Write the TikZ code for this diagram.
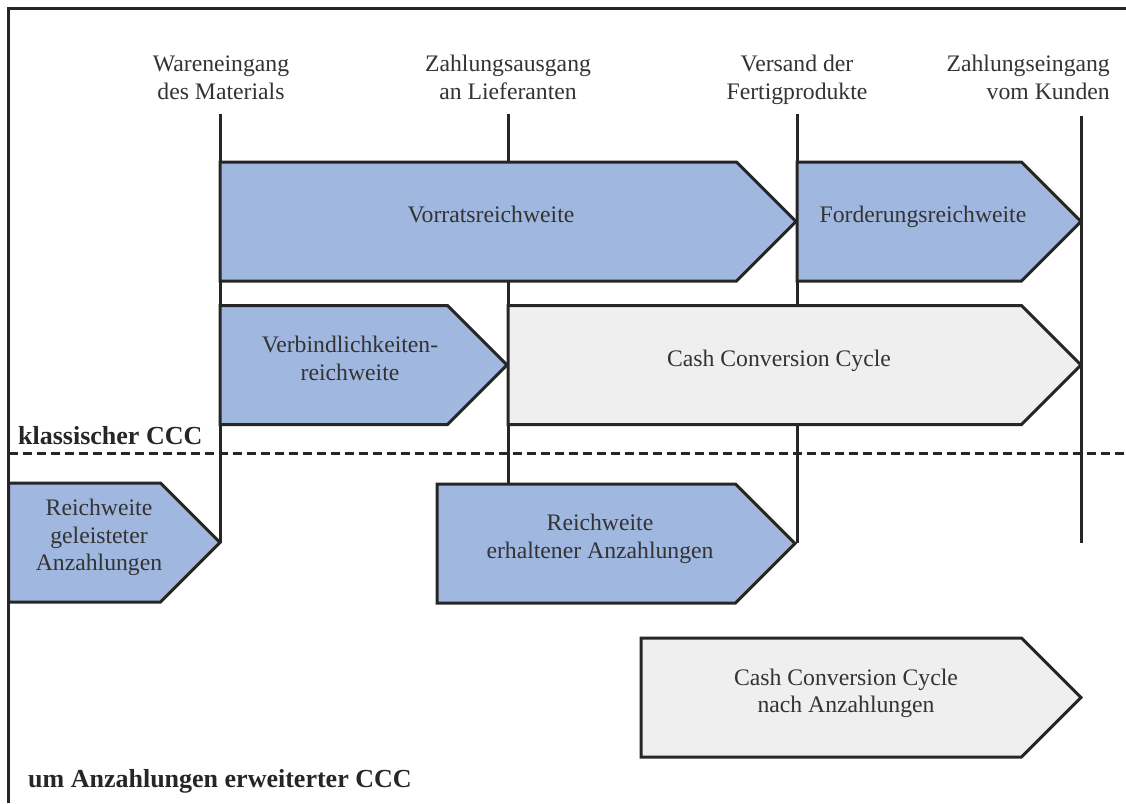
\documentclass[tikz,border=0pt]{standalone}
\usepackage{fontspec}
\setmainfont{LiberationSerif-Regular.ttf}[BoldFont=LiberationSerif-Bold.ttf]
\definecolor{boxblue}{HTML}{A0B7E0}
\definecolor{boxgrey}{HTML}{EFEFEF}
\definecolor{ink}{HTML}{262626}
\definecolor{txt}{HTML}{333333}
\newcommand\pentabox[4]{% style, left, tip, top
  \draw[#1] (#2,#4) -- ({#3-59.5},#4) -- (#3,{#4+59.5}) -- ({#3-59.5},{#4+119}) -- (#2,{#4+119}) -- cycle;}
\begin{document}
\begin{tikzpicture}[x=1pt,y=-1pt,
  frameline/.style={line width=3pt, draw=ink},
  marker/.style={line width=3pt, draw=ink},
  divider/.style={line width=3pt, draw=ink, dash pattern=on 9pt off 5pt},
  bluebox/.style={fill=boxblue, draw=ink, line width=3pt, line join=miter},
  greybox/.style={fill=boxgrey, draw=ink, line width=3pt, line join=miter},
  lbl/.style={inner sep=0pt, align=center, text=txt, font=\fontsize{23.7}{27.5}\selectfont},
  heading/.style={inner sep=0pt, anchor=base west, text=ink, font=\fontsize{26}{30}\selectfont\bfseries},
]
\useasboundingbox (0,0) rectangle (1126,803);
% frame
\coordinate (fbl) at (8.5,803);
\coordinate (ftl) at (8.5,8.5);
\coordinate (ftr) at (1126,8.5);
\draw[frameline] (fbl) -- (ftl) -- (ftr);
% markers
\coordinate (m1t) at (220,114); \coordinate (m1b) at (220,543);
\coordinate (m2t) at (508,114); \coordinate (m2b) at (508,484);
\coordinate (m3t) at (797,114); \coordinate (m3b) at (797,543);
\coordinate (m4t) at (1081,116); \coordinate (m4b) at (1081,543);
\draw[marker] (m1t) -- (m1b);
\draw[marker] (m2t) -- (m2b);
\draw[marker] (m3t) -- (m3b);
\draw[marker] (m4t) -- (m4b);
% dashed divider
\coordinate (dl) at (8.5,453); \coordinate (dr) at (1126,453);
\draw[divider] (dl) -- (dr);
% boxes
\pentabox{bluebox}{220}{796}{162}
\pentabox{bluebox}{797}{1081}{162}
\pentabox{bluebox}{220}{507}{305.5}
\pentabox{greybox}{508}{1081}{305.5}
\pentabox{bluebox}{8.5}{220}{483}
\pentabox{bluebox}{437}{795}{484}
\pentabox{greybox}{641}{1081}{638}
% labels
\node[lbl] (t1) at (221,80) {\strut Wareneingang\\\strut des Materials};
\node[lbl] (t2) at (508,80) {\strut Zahlungsausgang\\\strut an Lieferanten};
\node[lbl] (t3) at (797,80) {\strut Versand der\\\strut Fertigprodukte};
\node[lbl, anchor=east, align=right] (t4) at (1110,80) {\strut Zahlungseingang\\\strut vom Kunden};
\node[lbl] (vorrat) at (491,216.5) {\strut Vorratsreichweite};
\node[lbl] (ford) at (923,216.5) {\strut Forderungsreichweite};
\node[lbl] (verb) at (350,361) {\strut Verbindlichkeiten-\\\strut reichweite};
\node[lbl] (ccc) at (779,360.5) {\strut Cash Conversion Cycle};
\node[lbl] (gel) at (99,537.5) {\strut Reichweite\\\strut geleisteter\\\strut Anzahlungen};
\node[lbl] (erh) at (600,539) {\strut Reichweite\\\strut erhaltener Anzahlungen};
\node[lbl] (cccn) at (846,693.5) {\strut Cash Conversion Cycle\\\strut nach Anzahlungen};
\node[heading] (klass) at (18,444) {klassischer CCC};
\node[heading] (erw) at (28,787) {um Anzahlungen erweiterter CCC};
\end{tikzpicture}
\end{document}
